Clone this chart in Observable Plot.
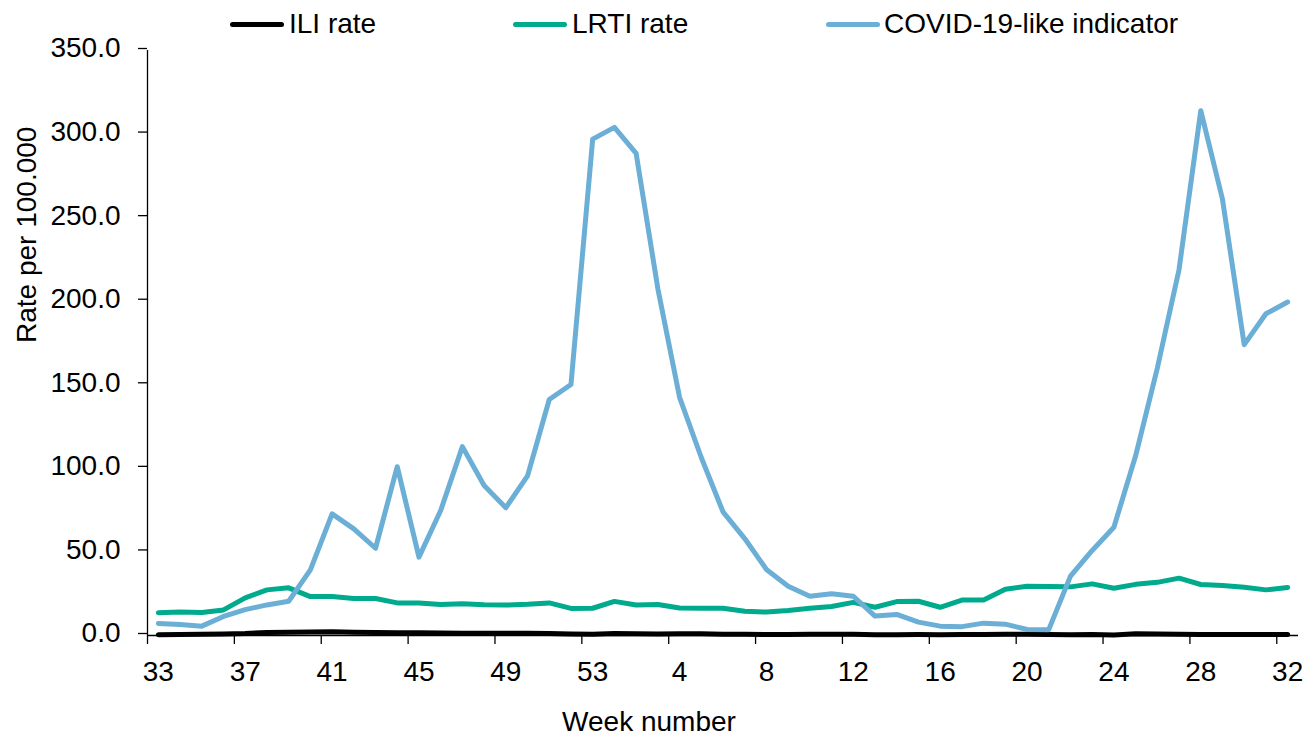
<!DOCTYPE html>
<html>
<head>
<meta charset="utf-8">
<script src="https://cdn.jsdelivr.net/npm/d3@7"></script>
<script src="https://cdn.jsdelivr.net/npm/@observablehq/plot@0.6"></script>
<style>
  html, body { margin: 0; padding: 0; background: #fff; }
  #wrap { position: relative; width: 1306px; height: 739px; font-family: "Liberation Sans", Arial, sans-serif; }
  .leg { position: absolute; top: 8px; font-size: 28px; line-height: 32px; color: #000; white-space: nowrap; }
  .sw { position: absolute; height: 5px; border-radius: 3px; top: 22px; }
</style>
</head>
<body>
<div id="wrap"></div>
<script>
// Week numbers (2020 wk 33 – 2021 wk 32)
const weeks = [33,34,35,36,37,38,39,40,41,42,43,44,45,46,47,48,49,50,51,52,53,
               1,2,3,4,5,6,7,8,9,10,11,12,13,14,15,16,17,18,19,20,21,22,23,24,25,26,27,28,29,30,31,32];

const iliRate = [0.5,0.6,0.7,0.9,1.2,1.8,2.0,2.1,2.2,1.9,1.8,1.7,1.6,1.5,1.4,1.4,1.3,1.3,1.2,0.9,0.8,
                 1.2,1.0,0.9,1.1,1.0,0.7,0.8,0.6,0.6,0.7,0.7,0.8,0.4,0.5,0.6,0.5,0.6,0.6,0.7,0.8,0.6,0.5,0.6,0.3,1.1,0.9,0.7,0.6,0.6,0.6,0.6,0.6];

const lrtiRate = [13.6,14.0,13.8,15.3,22.5,27.3,28.5,23.3,23.3,22.1,22.1,19.5,19.5,18.5,19.0,18.4,18.2,18.7,19.5,16.2,16.3,
                  20.4,18.3,18.6,16.4,16.3,16.3,14.5,14.0,14.9,16.3,17.4,19.8,16.9,20.3,20.5,16.9,21.2,21.3,27.7,29.5,29.3,29.1,30.9,28.3,30.6,31.8,34.3,30.5,29.9,28.9,27.3,28.7];

const covidLike = [7.2,6.6,5.6,11.4,15.5,18.3,20.5,39.3,72.8,63.8,52.2,101.0,46.9,74.8,113.0,89.7,76.5,95.5,141.2,150.2,297.0,
                   304.0,288.5,207.5,142.5,106.5,74.0,58.0,39.5,29.5,23.5,25.0,23.5,11.6,12.6,8.0,5.6,5.3,7.4,6.8,3.6,3.5,35.5,50.9,64.8,107.5,160.0,219.0,314.0,261.0,174.0,192.5,199.5];

const yTicks = [0,50,100,150,200,250,300,350];
const labelIdx = weeks.map((w, i) => i).filter(i => i % 4 === 0);

const seriesNames = ["ILI rate", "LRTI rate", "COVID-19-like indicator"];
const seriesColors = ["#000000", "#00AA8D", "#6BAED6"];
const seriesData = [iliRate, lrtiRate, covidLike];

const rows = [];
seriesData.forEach((arr, s) => arr.forEach((v, i) => rows.push({series: seriesNames[s], i, week: weeks[i], value: v})));

const font = '"Liberation Sans", Arial, sans-serif';

const chart = Plot.plot({
  width: 1306,
  height: 739,
  marginLeft: 147,
  marginRight: 8,
  marginTop: 50,
  marginBottom: 104,
  style: {fontFamily: font, fontSize: "28px", color: "#000", background: "#fff", overflow: "visible"},
  x: {type: "linear", domain: [-0.5, weeks.length - 0.5], axis: null},
  y: {domain: [0, 350], axis: null},
  color: {domain: seriesNames, range: seriesColors},
  marks: [
    Plot.ruleX([-0.5], {stroke: "#000", strokeWidth: 1.3}),
    Plot.axisY({ticks: yTicks, tickFormat: d3.format(".1f"), tickSize: 9, tickPadding: 18, label: null, stroke: "#000", strokeWidth: 1.3, fill: "#000", dy: -2}),
    Plot.axisX({ticks: labelIdx, tickFormat: i => String(weeks[i]), tickSize: 0, tickPadding: 26, label: null, fill: "#000"}),
    Plot.axisX({ticks: labelIdx.map(i => i - 0.5), tickFormat: () => "", tickSize: 9, label: null, stroke: "#000", strokeWidth: 1.3}),
    Plot.ruleY([0], {stroke: "#000", strokeWidth: 1.3}),
    Plot.line(rows, {x: "i", y: "value", z: "series", stroke: "series", strokeWidth: 5, strokeLinejoin: "round", strokeLinecap: "round"}),
    Plot.text(["Rate per 100.000"], {frameAnchor: "left", dx: -120, rotate: -90, fontSize: 28, fill: "#000"}),
    Plot.text(["Week number"], {frameAnchor: "bottom", dx: -74, dy: 95, fontSize: 28, fill: "#000"})
  ]
});

const wrap = document.getElementById("wrap");
wrap.appendChild(chart);

// Legend (HTML overlay above the plot frame)
const legendPos = [{sw: 230, tx: 289}, {sw: 513, tx: 572}, {sw: 826, tx: 884}];
seriesNames.forEach((name, k) => {
  const sw = document.createElement("div");
  sw.className = "sw";
  sw.style.left = legendPos[k].sw + "px";
  sw.style.width = "54px";
  sw.style.background = seriesColors[k];
  wrap.appendChild(sw);
  const t = document.createElement("div");
  t.className = "leg";
  t.style.left = legendPos[k].tx + "px";
  t.textContent = name;
  wrap.appendChild(t);
});
</script>
</body>
</html>
